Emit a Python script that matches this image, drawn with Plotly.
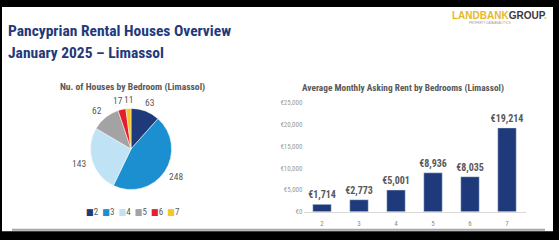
import math
import plotly.graph_objects as go

W, H = 559, 240

# Data
bedrooms = ["2", "3", "4", "5", "6", "7"]
house_counts = [63, 248, 143, 62, 17, 11]
pie_colors = ["#1F3A7A", "#1C8FD0", "#BFE3F4", "#A3A3A3", "#E31E2D", "#F6C623"]
avg_rent = [1714, 2773, 5001, 8936, 8035, 19214]
rent_labels = ["€1,714", "€2,773", "€5,001", "€8,936", "€8,035", "€19,214"]

NARROW = "Noto Sans ExtraCondensed, Noto Sans Condensed, Roboto Condensed, DejaVu Sans Condensed, sans-serif"
NAVY = "#1F3A7A"
GRAY = "#595959"

def px(x):
    return x / W

def py(y):
    return (H - y) / H

# pie geometry (pixels)
PCX, PCY, PR = 131, 150, 42
LABEL_RX, LABEL_RY = 54, 51
MIN_SEP = 10

fig = go.Figure()

fig.add_trace(go.Pie(
    labels=bedrooms,
    values=house_counts,
    marker=dict(colors=pie_colors, line=dict(color="white", width=0.5)),
    sort=False,
    direction="clockwise",
    rotation=0,
    textinfo="none",
    domain=dict(x=[px(PCX - PR), px(PCX + PR)], y=[py(PCY + PR), py(PCY - PR)]),
    showlegend=False,
    hoverinfo="label+value",
))

fig.add_trace(go.Bar(
    x=bedrooms,
    y=avg_rent,
    marker=dict(color=NAVY),
    text=rent_labels,
    textposition="outside",
    constraintext="none",
    textfont=dict(family=NARROW, size=10, color=GRAY, weight="bold"),
    cliponaxis=False,
    width=0.5,
    showlegend=False,
))

annotations = [
    dict(text="<b>Pancyprian Rental Houses Overview</b>", xref="paper", yref="paper",
         x=px(6), y=py(39), xanchor="left", yanchor="bottom", showarrow=False,
         font=dict(family=NARROW, size=15.5, color=NAVY)),
    dict(text="<b>January 2025 – Limassol</b>", xref="paper", yref="paper",
         x=px(6), y=py(62), xanchor="left", yanchor="bottom", showarrow=False,
         font=dict(family=NARROW, size=15.5, color=NAVY)),
    dict(text="<b>Nu. of Houses by Bedroom (Limassol)</b>", xref="paper", yref="paper",
         x=px(132), y=py(86), xanchor="center", yanchor="middle", showarrow=False,
         font=dict(family=NARROW, size=9.6, color=GRAY)),
    dict(text="<b>Average Monthly Asking Rent by Bedrooms (Limassol)</b>", xref="paper", yref="paper",
         x=px(403), y=py(87), xanchor="center", yanchor="middle", showarrow=False,
         font=dict(family=NARROW, size=9.3, color=GRAY)),
    dict(text="  ".join(f"<span style='color:{c}'>■</span><span style='color:{GRAY}'>{b}</span>"
                        for b, c in zip(bedrooms, pie_colors)),
         xref="paper", yref="paper", x=px(133), y=py(215), xanchor="center", yanchor="middle",
         showarrow=False, font=dict(family=NARROW, size=9, color=GRAY)),
    dict(text="<b><span style='color:#E6B82E'>LANDBANK</span><span style='color:#3A3A3A'>GROUP</span><span style='color:#E6B82E'>.</span></b>",
         xref="paper", yref="paper", x=px(499), y=py(12), xanchor="center", yanchor="middle",
         showarrow=False, font=dict(family="Liberation Sans, Arial, sans-serif", size=10)),
    dict(text="PROPERTY DATA ANALYTICS", xref="paper", yref="paper",
         x=px(490), y=py(19.5), xanchor="center", yanchor="middle",
         showarrow=False, font=dict(family="Liberation Sans, Arial, sans-serif", size=3, color="#9A9A9A")),
]

# pie value labels placed outside each slice at its mid-angle, with a simple
# horizontal de-collision pass for neighbouring small slices
total = sum(house_counts)
cum = 0
label_pos = []
for v in house_counts:
    mid = (cum + v / 2) / total * 2 * math.pi
    cum += v
    label_pos.append([PCX + LABEL_RX * math.sin(mid), PCY - LABEL_RY * math.cos(mid)])
for i in range(1, len(label_pos)):
    a, b = label_pos[i - 1], label_pos[i]
    if abs(a[1] - b[1]) < 8 and abs(a[0] - b[0]) < MIN_SEP:
        d = (MIN_SEP - abs(a[0] - b[0])) / 2
        s = 1 if b[0] >= a[0] else -1
        a[0] -= s * d
        b[0] += s * d
for v, (lx, ly) in zip(house_counts, label_pos):
    annotations.append(dict(text=str(v), xref="paper", yref="paper", x=px(lx), y=py(ly),
                            xanchor="center", yanchor="middle", showarrow=False,
                            font=dict(family=NARROW, size=9.5, color=GRAY)))

fig.update_layout(
    width=W, height=H,
    margin=dict(l=0, r=0, t=0, b=0),
    paper_bgcolor="black",
    plot_bgcolor="white",
    xaxis=dict(domain=[px(303.5), px(525.5)], type="category",
               showgrid=False, showline=True, linecolor="#D9D9D9", linewidth=1,
               ticks="", ticklabelstandoff=5,
               tickfont=dict(family=NARROW, size=7, color="#8C8C8C"),
               fixedrange=True),
    yaxis=dict(domain=[py(215), py(102)], range=[0, 25000], dtick=5000,
               tickprefix="€", tickformat=",", showgrid=False, zeroline=False,
               showline=False, ticks="",
               tickfont=dict(family=NARROW, size=7, color="#9A9A9A"),
               fixedrange=True),
    shapes=[
        dict(type="rect", xref="paper", yref="paper", layer="below",
             x0=px(2), x1=px(553), y0=py(235), y1=py(3),
             fillcolor="white", line=dict(width=0)),
        dict(type="line", xref="paper", yref="paper",
             x0=px(12), x1=px(545), y0=py(233.5), y1=py(233.5),
             line=dict(color="#A6A6A6", width=2)),
    ],
    annotations=annotations,
)

fig.write_html("out.html")
